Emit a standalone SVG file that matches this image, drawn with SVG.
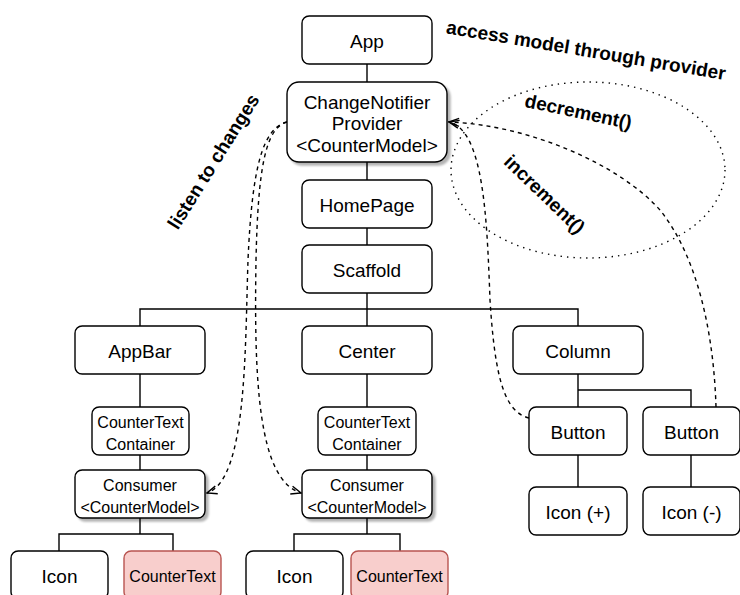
<svg xmlns="http://www.w3.org/2000/svg" width="740" height="595" viewBox="0 0 740 595">
  <style>
    .box { fill: #ffffff; stroke: #000000; stroke-width: 1.4; }
    .hot { fill: #f8cecc; stroke: #b85450; stroke-width: 1.4; }
    .t19 { font-family: "Liberation Sans", Arial, Helvetica, sans-serif; font-size: 19px; fill: #000; text-anchor: middle; }
    .t16 { font-family: "Liberation Sans", Arial, Helvetica, sans-serif; font-size: 16px; fill: #000; text-anchor: middle; }
    .note { font-family: "Liberation Sans", Arial, Helvetica, sans-serif; font-size: 19px; font-weight: bold; fill: #000; text-anchor: middle; }
    .tree { fill: none; stroke: #000; stroke-width: 1.4; }
    .flow { fill: none; stroke: #000; stroke-width: 1.4; stroke-dasharray: 4 4; }
    .scope { fill: none; stroke: #000; stroke-width: 1.4; stroke-dasharray: 1.4 5; }
  </style>
  <defs>
    <marker id="open" viewBox="0 0 12 10" refX="11" refY="5" markerWidth="12" markerHeight="10" orient="auto" markerUnits="userSpaceOnUse">
      <path d="M1,1 L11,5 L1,9" fill="none" stroke="#000" stroke-width="1.4" stroke-dasharray="none"/>
    </marker>
    <filter id="shadow" x="-10%" y="-10%" width="130%" height="130%">
      <feGaussianBlur in="SourceAlpha" stdDeviation="0.8"/>
      <feOffset dx="3" dy="3" result="off"/>
      <feComponentTransfer><feFuncA type="linear" slope="0.3"/></feComponentTransfer>
      <feMerge><feMergeNode/><feMergeNode in="SourceGraphic"/></feMerge>
    </filter>
  </defs>

  <!-- scope of the provider -->
  <ellipse class="scope" cx="588" cy="170" rx="137" ry="88"/>

  <g id="connectors">
    <!-- widget tree -->
    <path class="tree" d="M367,64 V82"/>
    <path class="tree" d="M367,162 V180" stroke-width="2"/>
    <path class="tree" d="M367,228 V245"/>
    <path class="tree" d="M367,293 V326 M140,326 V309 H578 V326"/>
    <path class="tree" d="M140,374 V407 M140,455 V470 M140,518 V534 M59,551 V534 H173 V551"/>
    <path class="tree" d="M367,374 V407 M367,455 V470 M367,518 V534 M294,551 V534 H400 V551"/>
    <path class="tree" d="M578,374 V407 M578,390 H691 V407 M578,455 V487 M691,455 V487"/>
    <!-- listeners -->
    <path class="flow" d="M287,122 C262,128 252,170 248,260 C245,350 247,480 207,493" marker-end="url(#open)"/>
    <path class="flow" d="M287,122 C265,128 258,170 256,260 C254,380 258,480 301,493" marker-end="url(#open)"/>
    <!-- calls into the model -->
    <path class="flow" d="M529,418 C505,412 495,380 490,300 C487,220 484,130 449,122" marker-end="url(#open)"/>
    <path class="flow" d="M716,407 C714,340 700,260 660,210 C620,165 530,125 449,122" marker-end="url(#open)"/>
  </g>

  <g id="app">
    <rect class="box" x="302" y="16" width="130" height="48" rx="7.2"/>
    <text class="t19" x="367" y="47.5">App</text>
  </g>
  <g id="provider">
    <rect class="box" x="287" y="82" width="160" height="80" rx="12" filter="url(#shadow)"/>
    <text class="t19" x="367" y="108.5">ChangeNotifier</text>
    <text class="t19" x="367" y="130">Provider</text>
    <text class="t19" x="367" y="151.5">&lt;CounterModel&gt;</text>
  </g>
  <g id="homepage">
    <rect class="box" x="302" y="180" width="130" height="48" rx="7.2"/>
    <text class="t19" x="367" y="211.5">HomePage</text>
  </g>
  <g id="scaffold">
    <rect class="box" x="302" y="245" width="130" height="48" rx="7.2"/>
    <text class="t19" x="367" y="276.5">Scaffold</text>
  </g>

  <g id="appbar">
    <rect class="box" x="75" y="326" width="130" height="48" rx="7.2"/>
    <text class="t19" x="140" y="357.5">AppBar</text>
  </g>
  <g id="center">
    <rect class="box" x="302" y="326" width="130" height="48" rx="7.2"/>
    <text class="t19" x="367" y="357.5">Center</text>
  </g>
  <g id="column">
    <rect class="box" x="513" y="326" width="130" height="48" rx="7.2"/>
    <text class="t19" x="578" y="357.5">Column</text>
  </g>

  <g id="appbar-container">
    <rect class="box" x="92" y="407" width="97" height="48" rx="7.2"/>
    <text class="t16" x="140.5" y="427.5">CounterText</text>
    <text class="t16" x="140.5" y="450">Container</text>
  </g>
  <g id="center-container">
    <rect class="box" x="318" y="407" width="98" height="48" rx="7.2"/>
    <text class="t16" x="367" y="427.5">CounterText</text>
    <text class="t16" x="367" y="450">Container</text>
  </g>

  <g id="appbar-consumer">
    <rect class="box" x="75" y="470" width="130" height="48" rx="7.2" filter="url(#shadow)"/>
    <text class="t16" x="140" y="490.5">Consumer</text>
    <text class="t16" x="140" y="512.5">&lt;CounterModel&gt;</text>
  </g>
  <g id="center-consumer">
    <rect class="box" x="302" y="470" width="130" height="48" rx="7.2" filter="url(#shadow)"/>
    <text class="t16" x="367" y="490.5">Consumer</text>
    <text class="t16" x="367" y="512.5">&lt;CounterModel&gt;</text>
  </g>

  <g id="appbar-icon">
    <rect class="box" x="11" y="551" width="97" height="48" rx="7.2"/>
    <text class="t19" x="59.5" y="582.5">Icon</text>
  </g>
  <g id="appbar-countertext">
    <rect class="hot" x="124" y="551" width="97" height="48" rx="7.2"/>
    <text class="t16" x="172.5" y="582">CounterText</text>
  </g>
  <g id="center-icon">
    <rect class="box" x="246" y="551" width="97" height="48" rx="7.2"/>
    <text class="t19" x="294.5" y="582.5">Icon</text>
  </g>
  <g id="center-countertext">
    <rect class="hot" x="351" y="551" width="97" height="48" rx="7.2"/>
    <text class="t16" x="399.5" y="582">CounterText</text>
  </g>

  <g id="button-increment">
    <rect class="box" x="529" y="407" width="98" height="48" rx="7.2"/>
    <text class="t19" x="578" y="438.5">Button</text>
  </g>
  <g id="button-decrement">
    <rect class="box" x="643" y="407" width="97" height="48" rx="7.2"/>
    <text class="t19" x="691.5" y="438.5">Button</text>
  </g>
  <g id="icon-plus">
    <rect class="box" x="529" y="487" width="98" height="48" rx="7.2"/>
    <text class="t19" x="578" y="518.5">Icon (+)</text>
  </g>
  <g id="icon-minus">
    <rect class="box" x="643" y="487" width="97" height="48" rx="7.2"/>
    <text class="t19" x="691.5" y="518.5">Icon (-)</text>
  </g>

  <g id="labels">
    <text class="note" x="585" y="56.5" transform="rotate(9.5 585 56.5)">access model through provider</text>
    <text class="note" x="577" y="118" transform="rotate(12 577 118)">decrement()</text>
    <text class="note" x="540" y="199" transform="rotate(44 540 199)">increment()</text>
    <text class="note" x="219" y="165" transform="rotate(-58 219 165)">listen to changes</text>
  </g>
</svg>
